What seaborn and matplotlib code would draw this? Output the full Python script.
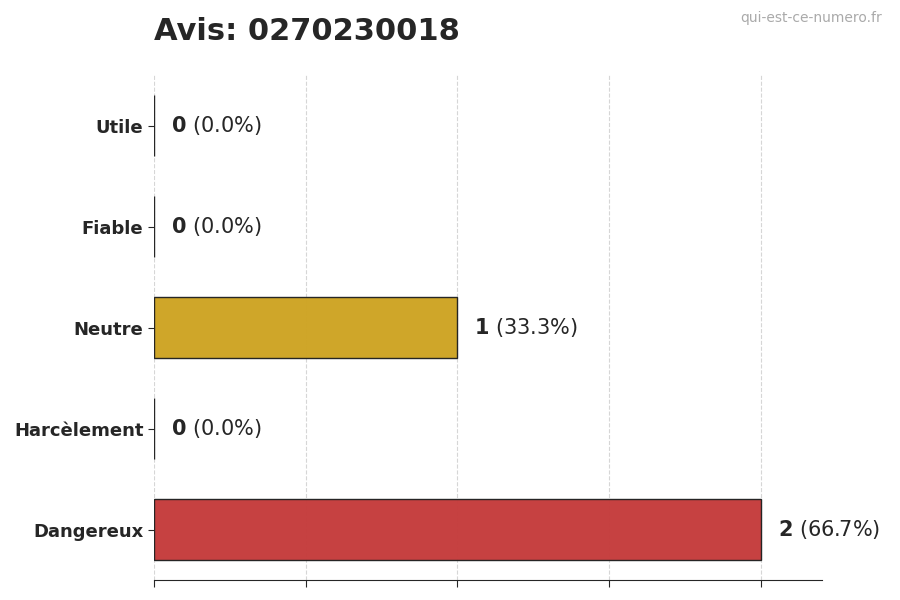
import matplotlib
matplotlib.use("Agg")
import matplotlib.pyplot as plt
import seaborn as sns
import pandas as pd

categories = ["Utile", "Fiable", "Neutre", "Harcèlement", "Dangereux"]
counts = [0, 0, 1, 0, 2]
colors = ["#22c55e", "#3b82f6", "#eab308", "#f97316", "#dc2626"]
total = sum(counts)

sns.set_style("white")
fig, ax = plt.subplots(figsize=(9, 6), dpi=100)
fig.subplots_adjust(left=0.171, right=0.913, top=0.875, bottom=0.033)
df = pd.DataFrame({"cat": categories, "n": counts})
sns.barplot(data=df, x="n", y="cat", hue="cat", palette=colors, legend=False,
            orient="h", width=0.6, edgecolor="#222222", linewidth=1, ax=ax, alpha=0.98)
ax.set_xlim(0, 2.2)
ax.set_xticks([0, 0.5, 1, 1.5, 2])
ax.set_xticklabels([])
ax.set_xlabel("")
ax.set_ylabel("")
ax.grid(axis="x", linestyle="--", color="#cccccc", alpha=0.8)
ax.set_axisbelow(True)
for s in ["top", "right", "left"]:
    ax.spines[s].set_visible(False)
ax.tick_params(axis="y", length=4, left=True)
ax.tick_params(axis="x", length=5, bottom=True)
for lbl in ax.get_yticklabels():
    lbl.set_fontweight("bold")
    lbl.set_fontsize(13)
for i, v in enumerate(counts):
    pct = 100 * v / total
    ax.annotate(f"$\\bf{{{v}}}$ ({pct:.1f}%)", xy=(v, i), xytext=(12, 0),
                textcoords="offset points", va="center", ha="left", fontsize=15)
fig.text(0.171, 0.948, "Avis: 0270230018", fontsize=22, fontweight="bold", ha="left", va="center")
fig.text(0.98, 0.97, "qui-est-ce-numero.fr", fontsize=10, color="#aaaaaa", ha="right", va="center")
fig.savefig("out.png")
